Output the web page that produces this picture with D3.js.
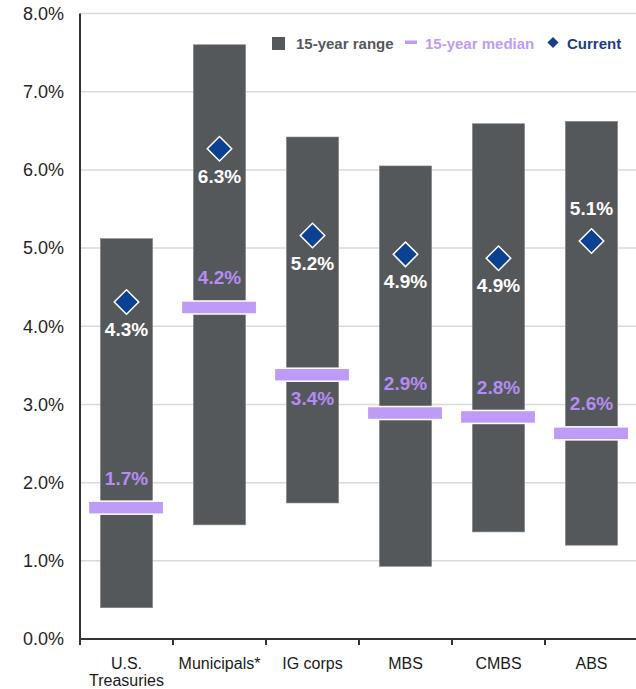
<!DOCTYPE html>
<html lang="en">
  <head>
    <meta charset="UTF-8" />
    <title>15-year yield ranges</title>
    <script src="https://cdn.jsdelivr.net/npm/d3@7"></script>
    <style>
      body { margin: 0; background: #fff; }
      svg { display: block; font-family: "Liberation Sans", Arial, sans-serif; }
    </style>
  </head>
  <body>
    <div id="chart"></div>
    <script>
      // data
      const categories = ["U.S.\nTreasuries", "Municipals*", "IG corps", "MBS", "CMBS", "ABS"];
      const rangeLow = [0.40, 1.46, 1.74, 0.93, 1.37, 1.20];
      const rangeHigh = [5.12, 7.60, 6.42, 6.05, 6.59, 6.62];
      const median = [1.68, 4.24, 3.38, 2.89, 2.84, 2.63];
      const current = [4.31, 6.27, 5.16, 4.92, 4.87, 5.09];
      const yTicks = [0, 1, 2, 3, 4, 5, 6, 7, 8];

      const data = categories.map((c, i) => ({
        cat: c,
        low: rangeLow[i],
        high: rangeHigh[i],
        median: median[i],
        current: current[i],
      }));

      const W = 636, H = 689;
      const margin = { top: 13.5, right: -2, bottom: 50, left: 80 };

      const barColor = "#55585b";
      const medColor = "#bf9bf8";
      const medText = "#b48cf2";
      const curColor = "#0b4192";
      const fmt = (v) => d3.format(".1f")(v) + "%";

      const svg = d3.select("#chart").append("svg").attr("width", W).attr("height", H);

      const x = d3.scaleBand().domain(categories).range([margin.left, W - margin.right]);
      const y = d3.scaleLinear().domain([0, 8]).range([H - margin.bottom, margin.top]);

      // gridlines
      svg.append("g")
        .selectAll("line")
        .data(yTicks)
        .join("line")
        .attr("x1", margin.left)
        .attr("x2", W)
        .attr("y1", (d) => y(d))
        .attr("y2", (d) => y(d))
        .attr("stroke", "#d9d9d9")
        .attr("stroke-width", 1.5);

      // y axis labels
      const yAxis = d3.axisLeft(y).tickValues(yTicks).tickFormat(fmt).tickSize(0).tickPadding(16);
      svg.append("g")
        .attr("transform", `translate(${margin.left},0)`)
        .call(yAxis)
        .call((g) => g.select(".domain").remove())
        .selectAll("text")
        .attr("font-size", 18)
        .attr("font-family", "Liberation Sans, Arial, sans-serif")
        .attr("fill", "#262626");

      const bw = x.bandwidth();

      // range bars
      svg.append("g")
        .selectAll("rect")
        .data(data)
        .join("rect")
        .attr("x", (d) => x(d.cat) + bw * 0.22)
        .attr("width", bw * 0.56)
        .attr("y", (d) => y(d.high))
        .attr("height", (d) => y(d.low) - y(d.high))
        .attr("fill", barColor)
        .attr("stroke", "#7d8083")
        .attr("stroke-width", 0.6);

      // median markers
      svg.append("g")
        .selectAll("rect")
        .data(data)
        .join("rect")
        .attr("x", (d) => x(d.cat) + bw * 0.09)
        .attr("width", bw * 0.81)
        .attr("y", (d) => y(d.median) - 6.5)
        .attr("height", 13)
        .attr("fill", medColor)
        .attr("stroke", "#fff")
        .attr("stroke-width", 1.5);

      // current diamonds
      const diamond = d3.symbol().type(d3.symbolSquare).size(300);
      svg.append("g")
        .selectAll("path")
        .data(data)
        .join("path")
        .attr("d", diamond)
        .attr("transform", (d) => `translate(${x(d.cat) + bw / 2},${y(d.current)}) rotate(45)`)
        .attr("fill", curColor)
        .attr("stroke", "#fff")
        .attr("stroke-width", 1.5);

      // value labels
      const medBelow = new Set(["IG corps"]);
      const curAbove = new Set(["ABS"]);

      svg.append("g")
        .selectAll("text")
        .data(data)
        .join("text")
        .attr("x", (d) => x(d.cat) + bw / 2)
        .attr("y", (d) => y(d.median) + (medBelow.has(d.cat) ? 30 : -23))
        .attr("text-anchor", "middle")
        .attr("font-size", 19)
        .attr("font-weight", "bold")
        .attr("fill", medText)
        .text((d) => fmt(d.median));

      svg.append("g")
        .selectAll("text")
        .data(data)
        .join("text")
        .attr("x", (d) => x(d.cat) + bw / 2)
        .attr("y", (d) => y(d.current) + (curAbove.has(d.cat) ? -26 : 34))
        .attr("text-anchor", "middle")
        .attr("font-size", 19)
        .attr("font-weight", "bold")
        .attr("fill", "#fff")
        .text((d) => fmt(d.current));

      // axes lines
      const y0 = y(0);
      svg.append("line")
        .attr("x1", margin.left).attr("x2", margin.left)
        .attr("y1", y(8)).attr("y2", y0)
        .attr("stroke", "#333").attr("stroke-width", 2);
      svg.append("line")
        .attr("x1", margin.left).attr("x2", W)
        .attr("y1", y0).attr("y2", y0)
        .attr("stroke", "#333").attr("stroke-width", 2);

      // category boundary ticks
      svg.append("g")
        .selectAll("line")
        .data(categories)
        .join("line")
        .attr("x1", (d) => x(d))
        .attr("x2", (d) => x(d))
        .attr("y1", y0)
        .attr("y2", y0 + 6)
        .attr("stroke", "#333")
        .attr("stroke-width", 2);

      // category labels
      svg.append("g")
        .selectAll("text")
        .data(categories)
        .join("text")
        .attr("x", (d) => x(d) + bw / 2)
        .attr("y", y0 + 30)
        .attr("text-anchor", "middle")
        .attr("font-size", 16)
        .attr("fill", "#1a1a1a")
        .each(function (d) {
          const t = d3.select(this);
          d.split("\n").forEach((line, i) => {
            t.append("tspan")
              .attr("x", x(d) + bw / 2)
              .attr("dy", i === 0 ? 0 : 17)
              .text(line);
          });
        });

      // legend
      const lg = svg.append("g").attr("font-size", 15).attr("font-weight", "bold");
      lg.append("rect").attr("x", 272).attr("y", 37).attr("width", 13).attr("height", 13).attr("fill", barColor);
      lg.append("text").attr("x", 296).attr("y", 49).attr("fill", barColor).text("15-year range");
      lg.append("rect").attr("x", 405).attr("y", 40.5).attr("width", 12).attr("height", 3.5).attr("fill", medColor);
      lg.append("text").attr("x", 425).attr("y", 49).attr("fill", medColor).text("15-year median");
      lg.append("path")
        .attr("d", d3.symbol().type(d3.symbolSquare).size(62))
        .attr("transform", "translate(553,42.5) rotate(45)")
        .attr("fill", "#1f3c88");
      lg.append("text").attr("x", 567).attr("y", 49).attr("fill", "#1f3c88").text("Current");
    </script>
  </body>
</html>
